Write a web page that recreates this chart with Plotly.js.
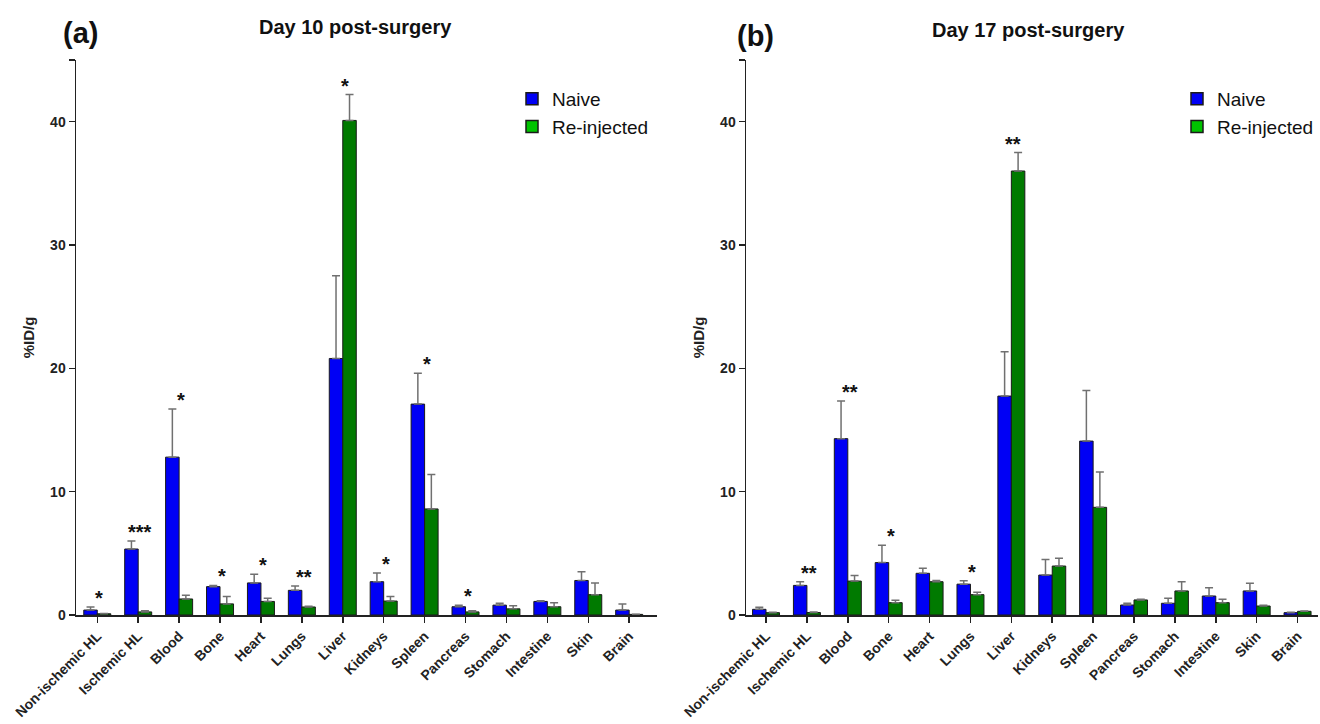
<!DOCTYPE html>
<html>
<head>
<meta charset="utf-8">
<script src="https://cdn.plot.ly/plotly-3.0.1.min.js"></script>
<style>html,body{margin:0;padding:0;background:#fff;}#chart{width:1320px;height:724px;}</style>
</head>
<body>
<div id="chart"></div>
<script>
// ---- data ----
var organs = ['Non-ischemic HL','Ischemic HL','Blood','Bone','Heart','Lungs','Liver','Kidneys','Spleen','Pancreas','Stomach','Intestine','Skin','Brain'];

var naive10     = [0.40, 5.35, 12.8, 2.30, 2.60, 2.00, 20.8, 2.70, 17.1, 0.67, 0.80, 1.10, 2.80, 0.40];
var naive10Err  = [0.25, 0.65, 3.90, 0.10, 0.70, 0.35, 6.70, 0.70, 2.50, 0.13, 0.15, 0.05, 0.70, 0.50];
var reinj10     = [0.10, 0.25, 1.30, 0.90, 1.10, 0.65, 40.1, 1.13, 8.60, 0.25, 0.50, 0.67, 1.65, 0.05];
var reinj10Err  = [0.03, 0.10, 0.30, 0.60, 0.25, 0.05, 2.10, 0.37, 2.80, 0.10, 0.25, 0.33, 0.95, 0.02];
var stars10     = ['*','***','*','*','*','**','*','*','*','*','','','',''];

var naive17     = [0.46, 2.40, 14.3, 4.25, 3.38, 2.50, 17.75, 3.24, 14.1, 0.81, 0.95, 1.54, 1.95, 0.19];
var naive17Err  = [0.16, 0.30, 3.05, 1.40, 0.42, 0.28, 3.60, 1.26, 4.10, 0.14, 0.40, 0.66, 0.62, 0.03];
var reinj17     = [0.19, 0.20, 2.75, 1.00, 2.70, 1.65, 36.0, 3.97, 8.73, 1.22, 1.95, 1.00, 0.73, 0.30];
var reinj17Err  = [0.03, 0.05, 0.45, 0.20, 0.10, 0.19, 1.50, 0.63, 2.87, 0.05, 0.75, 0.27, 0.07, 0.03];
var stars17     = ['','**','**','*','','*','**','','','','','','',''];

var seriesNames = ['Naive','Re-injected'];
var yTickVals = [0,10,20,30,40,45];
var yTickText = ['0','10','20','30','40',''];

// ---- styles ----
var FONT = 'Liberation Sans, Arial, Helvetica, sans-serif';
var BLUE = '#0000f5', GREEN = '#007a00', GREEN_LEG = '#00c400';
var zeros = organs.map(function(){return 0;});

function barTrace(name, y, err, color, xa, ya){
  return {
    type:'bar', name:name, x:organs, y:y, xaxis:xa, yaxis:ya, showlegend:false,
    marker:{color:color, line:{color:'#1a1a1a', width:1}},
    error_y:{type:'data', symmetric:false, array:err, arrayminus:zeros, color:'#707070', thickness:1.5, width:4},
    hoverinfo:'x+y'
  };
}
function legTrace(name, color, legend, grp){
  return {type:'bar', name:name, x:[null], y:[null], xaxis:'x3', yaxis:'y3', legend:legend, legendgroup:grp,
          marker:{color:color, line:{color:'#1a1a1a', width:1.5}}, showlegend:true, hoverinfo:'skip'};
}

var data = [
  barTrace(seriesNames[0], naive10, naive10Err, BLUE, 'x', 'y'),
  barTrace(seriesNames[1], reinj10, reinj10Err, GREEN, 'x', 'y'),
  barTrace(seriesNames[0], naive17, naive17Err, BLUE, 'x2', 'y2'),
  barTrace(seriesNames[1], reinj17, reinj17Err, GREEN, 'x2', 'y2'),
  legTrace(seriesNames[0], BLUE, 'legend', 'a1'),
  legTrace(seriesNames[1], GREEN_LEG, 'legend', 'a2'),
  legTrace(seriesNames[0], BLUE, 'legend2', 'b1'),
  legTrace(seriesNames[1], GREEN_LEG, 'legend2', 'b2')
];

var W = 1320, H = 724;
var yDom = [(H-615)/H, (H-60)/H];

function xAxis(dom, rng, anchor){
  return {domain:dom, anchor:anchor, type:'category', range:rng, showline:true, linecolor:'#222', linewidth:1.5,
    ticks:'outside', ticklen:6, tickwidth:1.5, tickcolor:'#222', tickangle:-45, showgrid:false, zeroline:false,
    tickfont:{family:FONT, size:14, color:'#222', weight:'bold'}, fixedrange:true};
}
function yAxis(anchor){
  return {domain:yDom, anchor:anchor, range:[0,45], tickmode:'array', tickvals:yTickVals, ticktext:yTickText,
    showline:true, linecolor:'#222', linewidth:1.5, ticks:'outside', ticklen:6, tickwidth:1.5, tickcolor:'#222',
    showgrid:false, zeroline:false, tickfont:{family:FONT, size:14, color:'#222', weight:'bold'},
    title:{text:'%ID/g', font:{family:FONT, size:15, color:'#222', weight:'bold'}, standoff:12}, fixedrange:true};
}

var annotations = [
  {xref:'paper', yref:'paper', x:80/W, y:(H-33)/H, text:'(a)', showarrow:false, xanchor:'center', yanchor:'middle',
   font:{family:FONT, size:29, color:'#111', weight:'bold'}},
  {xref:'paper', yref:'paper', x:755/W, y:(H-36)/H, text:'(b)', showarrow:false, xanchor:'center', yanchor:'middle',
   font:{family:FONT, size:29, color:'#111', weight:'bold'}},
  {xref:'paper', yref:'paper', x:355/W, y:(H-27)/H, text:'Day 10 post-surgery', showarrow:false, xanchor:'center', yanchor:'middle',
   font:{family:FONT, size:20, color:'#111', weight:'bold'}},
  {xref:'paper', yref:'paper', x:1028/W, y:(H-30)/H, text:'Day 17 post-surgery', showarrow:false, xanchor:'center', yanchor:'middle',
   font:{family:FONT, size:20, color:'#111', weight:'bold'}}
];
function addStars(stars, a, aErr, b, bErr, xr, yr){
  stars.forEach(function(s, i){
    if(!s) return;
    var top = Math.max(a[i]+aErr[i], b[i]+bErr[i]);
    annotations.push({xref:xr, yref:yr, x:organs[i], y:top, text:s, showarrow:false, xanchor:'center', yanchor:'bottom',
      xshift:2, yshift:-4, font:{family:FONT, size:20, color:'#111', weight:'bold'}});
  });
}
addStars(stars10, naive10, naive10Err, reinj10, reinj10Err, 'x', 'y');
addStars(stars17, naive17, naive17Err, reinj17, reinj17Err, 'x2', 'y2');

var legFont = {family:FONT, size:19, color:'#111'};
var layout = {
  width:W, height:H, margin:{l:0, r:0, t:0, b:0}, paper_bgcolor:'#fff', plot_bgcolor:'#fff',
  barmode:'group', bargap:0.34, bargroupgap:0.0, showlegend:true,
  xaxis: xAxis([76/W, 657/W], [-0.52, 13.68], 'y'),
  yaxis: yAxis('x'),
  xaxis2: xAxis([746/W, 1318/W], [-0.49, 13.5], 'y2'),
  yaxis2: yAxis('x2'),
  xaxis3: {domain:[0,0.01], anchor:'y3', visible:false},
  yaxis3: {domain:[0.99,1], anchor:'x3', visible:false},
  legend: {x:512/W, y:(H-80)/H, xanchor:'left', yanchor:'top', font:legFont, bgcolor:'rgba(0,0,0,0)', traceorder:'grouped', tracegroupgap:0},
  legend2:{x:1177/W, y:(H-80)/H, xanchor:'left', yanchor:'top', font:legFont, bgcolor:'rgba(0,0,0,0)', traceorder:'grouped', tracegroupgap:0},
  annotations: annotations
};

Plotly.newPlot('chart', data, layout, {displayModeBar:false, staticPlot:true});
</script>
</body>
</html>
